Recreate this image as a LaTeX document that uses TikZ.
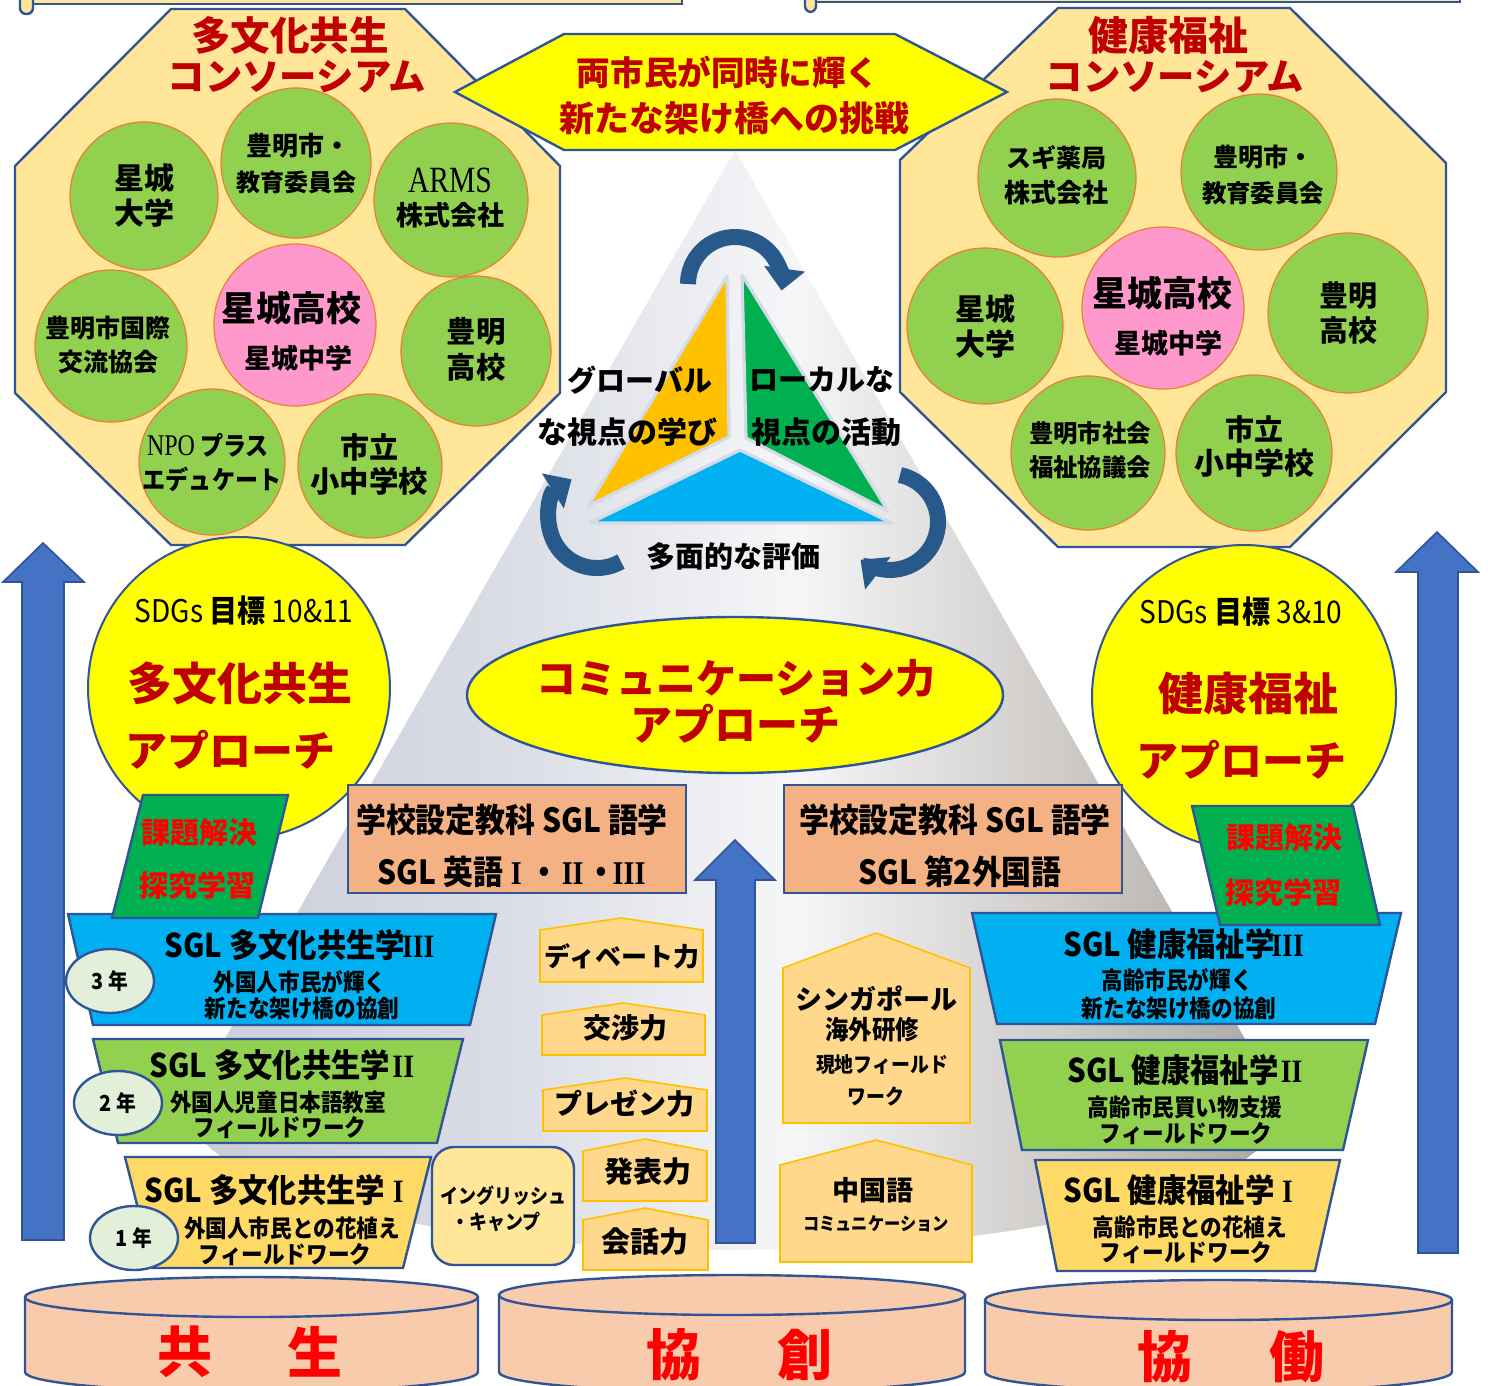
\documentclass[tikz,border=0pt]{standalone}
\usepackage{fontspec}
\setmainfont{Noto Sans CJK JP}
\newfontfamily\jp{Noto Sans CJK JP}
\newfontfamily\jpc{Noto Sans CJK JP}[FakeStretch=0.9]
\newfontfamily\serc{Liberation Serif}[FakeStretch=0.8]
\newfontfamily\rmn{Liberation Serif}[FakeStretch=0.85]
\newcommand\RN[1]{\makebox[0.8em]{\rmn\bfseries #1}}
\usetikzlibrary{arrows.meta,shapes.geometric}
\definecolor{dred}{HTML}{C00000}
\definecolor{bred}{HTML}{FF0000}
\definecolor{bblue}{HTML}{2F5597}
\definecolor{octf}{HTML}{FFE699}
\definecolor{gcf}{HTML}{92D050}
\definecolor{gco}{HTML}{ED7D31}
\definecolor{pinkf}{HTML}{FF99CC}
\definecolor{yel}{HTML}{FFFF00}
\definecolor{triO}{HTML}{FFC000}
\definecolor{triG}{HTML}{00B050}
\definecolor{triB}{HTML}{00B0F0}
\definecolor{cycc}{HTML}{27598B}
\definecolor{orgbox}{HTML}{F4B183}
\definecolor{trB}{HTML}{00B0F0}
\definecolor{trG}{HTML}{92D050}
\definecolor{trY}{HTML}{FFD966}
\definecolor{yrf}{HTML}{E2F0D9}
\definecolor{penf}{HTML}{FFD88C}
\definecolor{peno}{HTML}{FFC000}
\definecolor{engf}{HTML}{FFE699}
\definecolor{cylf}{HTML}{F8CBAD}
\definecolor{arrb}{HTML}{4472C4}
\definecolor{coneA}{HTML}{C9CCD7}
\definecolor{coneB}{HTML}{D9DCE5}
\definecolor{coneC}{HTML}{F6F6F8}
\definecolor{coneD}{HTML}{CDCAC7}
\definecolor{coneE}{HTML}{A9A49F}
\definecolor{parG}{HTML}{00B050}
\definecolor{trio}{HTML}{D3DBE8}
\pgfdeclarehorizontalshading{conesh}{100bp}{color(0bp)=(coneA); color(25bp)=(coneA); color(40bp)=(coneB); color(53bp)=(coneC); color(65bp)=(coneD); color(75bp)=(coneE); color(100bp)=(coneE)}
\begin{document}
\begin{tikzpicture}[x=0.5pt,y=-0.5pt,
 jt/.style={inner sep=0pt,outer sep=0pt,align=center,font=\jp\bfseries\fontsize{#1pt}{#1pt}\selectfont},
 jc/.style={inner sep=0pt,outer sep=0pt,align=center,font=\jpc\bfseries\fontsize{#1pt}{#1pt}\selectfont},
 jr/.style={inner sep=0pt,outer sep=0pt,align=center,font=\jpc\fontsize{#1pt}{#1pt}\selectfont},
 gcirc/.style={circle,draw=gco,fill=gcf,line width=0.6pt,minimum size=#1pt,inner sep=0pt},
 pcirc/.style={circle,draw=gco,fill=pinkf,line width=0.6pt,minimum size=#1pt,inner sep=0pt},
 sdg/.style={circle,draw=bblue,fill=yel,line width=1pt,minimum size=#1pt,inner sep=0pt},
 oct/.style={draw=bblue,fill=octf,line width=1.2pt},
 banner/.style={draw=bblue,fill=octf,line width=1.2pt},
 hexs/.style={draw=bblue,fill=yel,line width=1.2pt},
 tri/.style={draw=trio,line width=1.6pt,line join=round},
 cyca/.style={draw=cycc,line width=8pt,-{Triangle[width=20pt,length=11pt]}},
 bigarr/.style={draw=bblue,fill=arrb,line width=0.8pt},
 obox/.style={draw=bblue,fill=orgbox,line width=1.2pt},
 trap/.style={draw=bblue,line width=1.2pt},
 para/.style={draw=bblue,fill=parG,line width=1.2pt},
 yoval/.style={ellipse,draw=bblue,fill=yrf,line width=1.2pt,minimum width=44pt,minimum height=32pt,inner sep=0pt},
 house/.style={draw=peno,fill=penf,line width=0.8pt},
 cyl/.style={draw=bblue,fill=cylf,line width=1.2pt}
]
\useasboundingbox (0,0) rectangle (1488,1386);
\fill[white] (0,0) rectangle (1488,1386);

% top banners (cut off)
\draw[banner] (20,-30) rectangle (682,4);
\draw[banner,rounded corners=3pt] (20,-30) rectangle (33,14);
\draw[banner] (805,-30) rectangle (1460,2);
\draw[banner,rounded corners=3pt] (805,-30) rectangle (816,12);

% cone
\shade[shading=conesh]
 (735,150) -- (195.8,1089.6) arc[start angle=188.4,end angle=-8.4,x radius=545,y radius=140] -- cycle;

% octagons
\draw[oct] (15,166) -- (171,9) -- (405,9) -- (560,166) -- (560,393) -- (405,545) -- (171,545) -- (15,393) -- cycle;
\draw[oct] (900,160) -- (1058,8) -- (1290,8) -- (1446,163) -- (1446,392) -- (1290,547) -- (1058,547) -- (900,392) -- cycle;

% left octagon
\node[jt=19.8,text=dred] (LT1) at (290,35) {多文化共生};
\node[jt=18.7,text=dred] (LT2) at (297,77) {コンソーシアム};
\node[gcirc=74] (L1) at (144,196) {};
\node[gcirc=75] (L2) at (296,163) {};
\node[gcirc=77] (L3) at (451,200) {};
\node[gcirc=76] (L4) at (111,346) {};
\node[pcirc=81] (L5) at (295,325) {};
\node[gcirc=75] (L6) at (476,351) {};
\node[gcirc=73] (L7) at (212,462) {};
\node[gcirc=72] (L8) at (370,466) {};
\node[jt=15] (L1a) at (144,178) {星城};
\node[jt=15] (L1b) at (144,213) {大学};
\node[jt=13] (L2a) at (298,146) {豊明市・};
\node[jt=12] (L2b) at (296,182) {教育委員会};
\node[inner sep=0pt,font=\serc\fontsize{18.5pt}{18.5pt}\selectfont] (L3a) at (450,180) {ARMS};
\node[jt=13.5] (L3b) at (450,215) {株式会社};
\node[jt=12.5] (L4a) at (108,328) {豊明市国際};
\node[jt=12.5] (L4b) at (108,362) {交流協会};
\node[jt=17.5] (L5a) at (291,308) {星城高校};
\node[jt=13.5] (L5b) at (298,358) {星城中学};
\node[jt=14.7] (L6a) at (476,331) {豊明};
\node[jt=14.7] (L6b) at (476,367) {高校};
\node[jc=12.8] (L7a) at (208,445) {{\serc\mdseries\fontsize{15pt}{15pt}\selectfont NPO} プラス};
\node[jc=12.8] (L7b) at (212,479) {エデュケート};
\node[jt=14.5] (L8a) at (369,447) {市立};
\node[jt=14.7] (L8b) at (369,481) {小中学校};

% right octagon
\node[jt=20,text=dred] (RT1) at (1168,35) {健康福祉};
\node[jt=18.7,text=dred] (RT2) at (1175,77) {コンソーシアム};
\node[gcirc=79] (R1) at (1057,178) {};
\node[gcirc=78] (R2) at (1259,172) {};
\node[gcirc=78] (R3) at (985,326) {};
\node[pcirc=81] (R4) at (1163,308) {};
\node[gcirc=80] (R5) at (1348,313) {};
\node[gcirc=77] (R6) at (1088,453) {};
\node[gcirc=78] (R7) at (1254,453) {};
\node[jt=12.5] (R1a) at (1056,158) {スギ薬局};
\node[jt=13] (R1b) at (1056,193) {株式会社};
\node[jt=12.5] (R2a) at (1263,157) {豊明市・};
\node[jt=12.2] (R2b) at (1263,193) {教育委員会};
\node[jt=15] (R3a) at (985,309) {星城};
\node[jt=15] (R3b) at (985,344) {大学};
\node[jt=17.5] (R4a) at (1162,293) {星城高校};
\node[jt=13.5] (R4b) at (1168,343) {星城中学};
\node[jt=14.5] (R5a) at (1348,296) {豊明};
\node[jt=14.5] (R5b) at (1348,330) {高校};
\node[jt=12.2] (R6a) at (1090,433) {豊明市社会};
\node[jt=12.2] (R6b) at (1090,467) {福祉協議会};
\node[jt=14.5] (R7a) at (1254,429) {市立};
\node[jt=15] (R7b) at (1254,463) {小中学校};

% hexagon
\draw[hexs] (455,92) -- (564,34) -- (895,34) -- (1007,92) -- (895,150) -- (564,150) -- cycle;
\node[jt=16.8,text=dred] (H1) at (728,72) {両市民が同時に輝く};
\node[jt=17.5,text=dred] (H2) at (734,118) {新たな架け橋への挑戦};

% triangle
\draw[tri,fill=triO] (727,276) -- (588,506) -- (729,437) -- cycle;
\draw[tri,fill=triG] (742,275) -- (746,438) -- (888,511) -- cycle;
\draw[tri,fill=triB] (740,450) -- (590,523) -- (892,523) -- cycle;
\draw[cyca] (688,284) arc[start angle=180,end angle=368,radius=47];
\draw[cyca] (621,561.6) arc[start angle=60,end angle=238,radius=48];
\draw[cyca] (900,475) arc[start angle=-78,end angle=128,radius=48];
\node[jt=14.5] (G1) at (640,380) {グローバル};
\node[jt=15] (G2) at (627,432) {な視点の学び};
\node[jt=14.5] (G3) at (822,380) {ローカルな};
\node[jt=15] (G4) at (826,432) {視点の活動};
\node[jt=14.5] (G5) at (733,556) {多面的な評価};

% big arrows
\draw[bigarr] (22,1240) -- (22,582) -- (3,582) -- (43,543) -- (84,582) -- (64,582) -- (64,1240) -- cycle;
\draw[bigarr] (1418,1253) -- (1418,572) -- (1396,572) -- (1437,532) -- (1478,572) -- (1458,572) -- (1458,1253) -- cycle;

% SDGs circles
\node[sdg=151] (S1) at (239,688) {};
\node[sdg=152] (S2) at (1244,697) {};
\node[jr=15.6] (S1a) at (244,611) {SDGs {\bfseries 目標} 10\&11};
\node[jt=22.5,text=dred] (S1b) at (240,683) {多文化共生};
\node[jt=21,text=dred] (S1c) at (230,750) {アプローチ};
\node[jr=15.6] (S2a) at (1241,612) {SDGs {\bfseries 目標} 3\&10};
\node[jt=22.5,text=dred] (S2b) at (1248,693) {健康福祉};
\node[jt=21,text=dred] (S2c) at (1241,760) {アプローチ};

% communication ellipse
\node[ellipse,draw=bblue,fill=yel,line width=1.2pt,minimum width=268pt,minimum height=78pt] (CE) at (735,695) {};
\node[jt=20,text=dred] (CE1) at (736,678) {コミュニケーション力};
\node[jt=21,text=dred] (CE2) at (735,724) {アプローチ};

% orange boxes
\draw[obox] (348,785) rectangle (686,893);
\draw[obox] (784,785) rectangle (1122,893);
\node[jc=16.6] (O1a) at (512,820) {学校設定教科 SGL 語学};
\node[jc=16.6] (O1b) at (510,872) {SGL 英語\RN{I}・\RN{II}・\RN{III}};
\node[jc=16.6] (O2a) at (955,820) {学校設定教科 SGL 語学};
\node[jc=16.6] (O2b) at (960,872) {SGL 第2外国語};

% center arrow
\draw[bigarr] (716,1243) -- (716,880) -- (695,880) -- (735,840) -- (775,880) -- (755,880) -- (755,1243) -- cycle;

% left trapezoids
\draw[trap,fill=trB] (68,914) -- (496,914) -- (470,1025) -- (93,1025) -- cycle;
\draw[trap,fill=trG] (93,1039) -- (463,1039) -- (437,1143) -- (118,1143) -- cycle;
\draw[trap,fill=trY] (125,1157) -- (431,1157) -- (403,1268) -- (153,1268) -- cycle;
\node[jc=16.3] (A3a) at (298,945) {SGL 多文化共生学\RN{III}};
\node[jc=12] (A3b) at (300,982) {外国人市民が輝く};
\node[jc=12] (A3c) at (302,1008) {新たな架け橋の協創};
\node[jc=16.3] (A2a) at (283,1065) {SGL 多文化共生学\RN{II}};
\node[jc=12] (A2b) at (278,1102) {外国人児童日本語教室};
\node[jc=12] (A2c) at (280,1128) {フィールドワーク};
\node[jc=16.3] (A1a) at (278,1190) {SGL 多文化共生学\RN{I}};
\node[jc=12] (A1b) at (292,1228) {外国人市民との花植え};
\node[jc=12] (A1c) at (285,1255) {フィールドワーク};
\node[yoval] (Y3) at (110,981) {};
\node[yoval] (Y2) at (118,1103) {};
\node[yoval] (Y1) at (134,1238) {};
\node[jc=11] (Y3t) at (Y3) {3 年};
\node[jc=11] (Y2t) at (Y2) {2 年};
\node[jc=11] (Y1t) at (Y1) {1 年};

% right trapezoids
\draw[trap,fill=trB] (972,913) -- (1401,913) -- (1375,1024) -- (997,1024) -- cycle;
\draw[trap,fill=trG] (1000,1040) -- (1368,1040) -- (1343,1150) -- (1022,1150) -- cycle;
\draw[trap,fill=trY] (1035,1160) -- (1340,1160) -- (1315,1271) -- (1057,1271) -- cycle;
\node[jc=16.3] (B3a) at (1182,944) {SGL 健康福祉学\RN{III}};
\node[jc=12] (B3b) at (1177,980) {高齢市民が輝く};
\node[jc=12] (B3c) at (1179,1008) {新たな架け橋の協創};
\node[jc=16.3] (B2a) at (1186,1070) {SGL 健康福祉学\RN{II}};
\node[jc=12] (B2b) at (1185,1107) {高齢市民買い物支援};
\node[jc=12] (B2c) at (1186,1134) {フィールドワーク};
\node[jc=16.3] (B1a) at (1182,1190) {SGL 健康福祉学\RN{I}};
\node[jc=12] (B1b) at (1190,1227) {高齢市民との花植え};
\node[jc=12] (B1c) at (1186,1253) {フィールドワーク};

% green parallelograms
\draw[para] (143,795) -- (288,795) -- (258,918) -- (112,918) -- cycle;
\node[jt=14.5,text=bred] (K1a) at (199,833) {課題解決};
\node[jt=14.5,text=bred] (K1b) at (197,885) {探究学習};
\draw[para] (1192,806) -- (1353,806) -- (1380,925) -- (1220,925) -- cycle;
\node[jt=14.5,text=bred] (K2a) at (1284,838) {課題解決};
\node[jt=14.5,text=bred] (K2b) at (1283,892) {探究学習};

% skill houses
\draw[house] (540,982) -- (540,930) -- (621,918) -- (703,930) -- (703,982) -- cycle;
\draw[house] (542,1055) -- (542,1015) -- (623,1003) -- (705,1015) -- (705,1055) -- cycle;
\draw[house] (543,1131) -- (543,1090) -- (625,1078) -- (707,1090) -- (707,1131) -- cycle;
\draw[house] (583,1201) -- (583,1151) -- (645,1139) -- (707,1151) -- (707,1201) -- cycle;
\draw[house] (583,1270) -- (583,1220) -- (645,1208) -- (708,1220) -- (708,1270) -- cycle;
\node[jt=13] (P1) at (622,956) {ディベート力};
\node[jt=14] (P2) at (625,1028) {交渉力};
\node[jt=14] (P3) at (624,1104) {プレゼン力};
\node[jt=14.5] (P4) at (648,1172) {発表力};
\node[jt=14.5] (P5) at (645,1242) {会話力};
\draw[house] (783,1123) -- (783,968) -- (876,933) -- (970,968) -- (970,1123) -- cycle;
\node[jt=13.5] (P6a) at (876,999) {シンガポール};
\node[jc=13] (P6b) at (872,1030) {海外研修};
\node[jc=10.5] (P6c) at (882,1065) {現地フィールド};
\node[jc=10.5] (P6d) at (876,1096) {ワーク};
\draw[house] (780,1262) -- (780,1165) -- (876,1140) -- (972,1165) -- (972,1262) -- cycle;
\node[jt=13.5] (P7a) at (873,1190) {中国語};
\node[jc=9] (P7b) at (876,1224) {コミュニケーション};

% english camp
\draw[draw=bblue,fill=engf,line width=1.2pt,rounded corners=11pt] (432,1147) rectangle (574,1265);
\node[jc=10] (E1) at (503,1196) {イングリッシュ};
\node[jc=10] (E2) at (496,1222) {・キャンプ};

% cylinders
\draw[cyl] (25,1297) -- (25,1372) arc[start angle=180,end angle=0,x radius=226.5,y radius=20] -- (478,1297);
\draw[cyl] (251.5,1297) ellipse[x radius=226.5,y radius=20];
\draw[cyl] (499,1295) -- (499,1372) arc[start angle=180,end angle=0,x radius=233,y radius=20] -- (965,1295);
\draw[cyl] (732,1295) ellipse[x radius=233,y radius=20];
\draw[cyl] (985,1300) -- (985,1372) arc[start angle=180,end angle=0,x radius=233.5,y radius=20] -- (1452,1300);
\draw[cyl] (1218.5,1300) ellipse[x radius=233.5,y radius=20];
\node[jt=27.5,text=bred] (C1a) at (185,1352) {共};
\node[jt=27.5,text=bred] (C1b) at (315,1352) {生};
\node[jt=27.5,text=bred] (C2a) at (674,1355) {協};
\node[jt=27.5,text=bred] (C2b) at (805,1355) {創};
\node[jt=27.5,text=bred] (C3a) at (1165,1357) {協};
\node[jt=27.5,text=bred] (C3b) at (1297,1357) {働};
\end{tikzpicture}
\end{document}
